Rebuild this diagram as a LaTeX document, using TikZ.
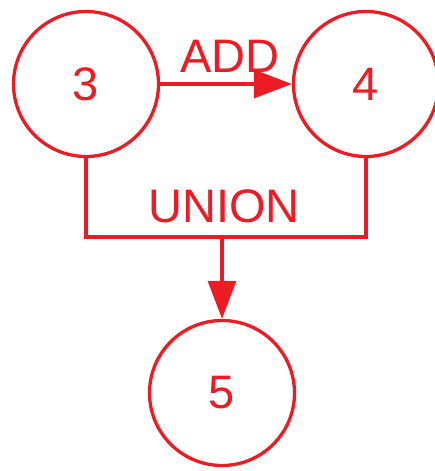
\documentclass[tikz,border=0pt]{standalone}
\usepackage{fontspec}
\setmainfont{Liberation Sans}
\usetikzlibrary{arrows.meta}
\definecolor{setred}{RGB}{237,28,36}

\tikzset{
  state/.style={circle, draw=setred, line width=3.3pt, minimum size=145pt, inner sep=0pt,
    text=setred, font=\fontsize{47}{52}\selectfont},
  op/.style={text=setred, font=\fontsize{47}{52}\selectfont, inner sep=0pt, anchor=base},
  link/.style={draw=setred, line width=3.3pt},
  arr/.style={link, -{Triangle[length=38pt,width=28pt]}}
}

\begin{document}
\begin{tikzpicture}[x=1pt,y=-1pt]
  \useasboundingbox (0,0) rectangle (435,471);

  % the three sets
  \node[state] (s3) at (86,84) {3};
  \node[state] (s4) at (366,84) {4};
  \node[state] (s5) at (222,393) {5};

  % add 3 -> 4
  \draw[arr] (s3) -- (s4);
  \node[op] (add) at (230,72) {ADD};

  % union of 3 and 4 gives 5
  \coordinate (join) at (222,237);
  \draw[link] (s3.south) |- (join) -| (s4.south);
  \draw[arr] (join) -- (s5);
  \node[op] (union) at (224,222) {UNION};
\end{tikzpicture}
\end{document}
